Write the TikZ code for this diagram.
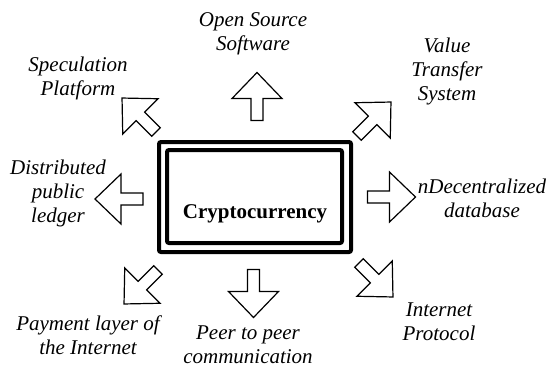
\documentclass[tikz,border=0pt]{standalone}
\usepackage{fontspec}
\IfFontExistsTF{LiberationSerif-Italic.ttf}
  {\newfontfamily\lblfont{LiberationSerif-Italic.ttf}}
  {\newcommand{\lblfont}{\itshape}}
\IfFontExistsTF{LiberationSerif-Bold.ttf}
  {\newfontfamily\corefont{LiberationSerif-Bold.ttf}}
  {\newcommand{\corefont}{\bfseries}}
\newcommand{\blockarr}[3]{%
  \draw[blockarrow, shift={(#1,#2)}, rotate=#3]
    (-24,-6) -- (-2,-6) -- (-2,-25) -- (24,0) -- (-2,25) -- (-2,6) -- (-24,6) -- cycle;}
\tikzset{
  blockarrow/.style={draw=black, line width=1.2pt, fill=white, line join=miter},
  lbl/.style={font=\lblfont\fontsize{21}{24}\selectfont, align=center, inner sep=0pt},
}
\begin{document}
\begin{tikzpicture}[x=1pt, y=-1pt]
\useasboundingbox (0,0) rectangle (549,367);
% central double frame
\draw[line width=4pt, rounded corners=2pt] (159,142) rectangle (351,252);
\draw[line width=4pt, rounded corners=2pt] (167,150) rectangle (342,243);
\node[anchor=base, inner sep=0pt, font=\corefont\fontsize{21}{24}\selectfont] (core) at (255,218) {Cryptocurrency};
% arrows
\blockarr{257}{96.5}{90}
\blockarr{253.5}{293.5}{-90}
\blockarr{119}{199}{180}
\blockarr{391.5}{197}{0}
\blockarr{139}{115}{135}
\blockarr{374}{119}{45}
\blockarr{141}{287}{225}
\blockarr{376}{280}{-45}
% labels
\node[lbl] (oss) at (253,34) {Open Source\\Software};
\node[lbl] (spec) at (78,78) {Speculation\\Platform};
\node[lbl] (vts) at (447,71) {Value\\Transfer\\System};
\node[lbl] (dpl) at (58,193) {Distributed\\public\\ledger};
\node[lbl] (ndb) at (482,198) {nDecentralized\\database};
\node[lbl] (pay) at (88,335) {Payment layer of\\the Internet};
\node[lbl] (p2p) at (248,345) {Peer to peer\\communication};
\node[lbl] (ip) at (439,322) {Internet\\Protocol};
\end{tikzpicture}
\end{document}
